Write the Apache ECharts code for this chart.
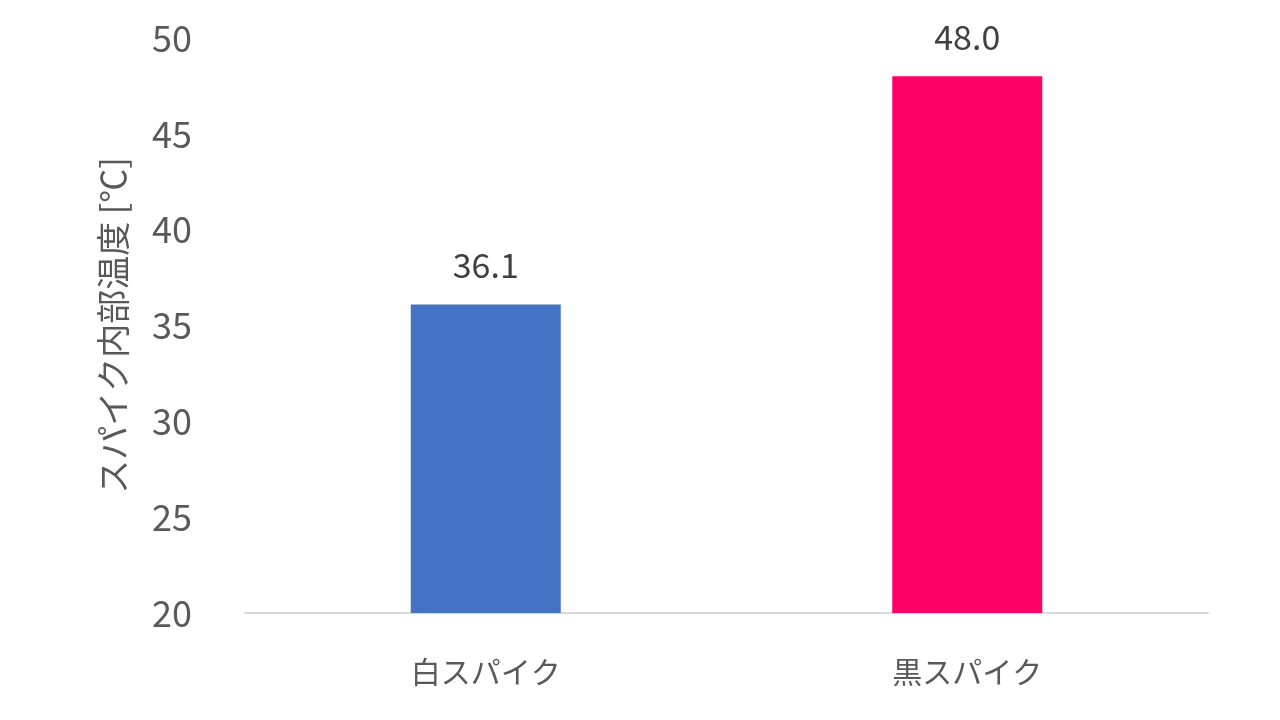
<!DOCTYPE html>
<html>
<head>
<meta charset="utf-8">
<script src="https://cdn.jsdelivr.net/npm/echarts@6/dist/echarts.min.js"></script>
<style>
html,body{margin:0;padding:0;background:#fff;}
#chart{width:1280px;height:720px;}
</style>
</head>
<body>
<div id="chart"></div>
<script>
const categories = ['白スパイク', '黒スパイク'];
const values = [36.1, 48.0];
const barColors = ['#4472C4', '#FF0066'];
const yAxisName = 'スパイク内部温度 [℃]';

const FONT = '"Noto Sans CJK JP", "Noto Sans", sans-serif';
const chart = echarts.init(document.getElementById('chart'));
chart.setOption({
  backgroundColor: '#ffffff',
  animation: false,
  grid: { left: 245, right: 72, top: 38, bottom: 107 },
  xAxis: {
    type: 'category',
    data: categories,
    axisLine: { lineStyle: { color: '#D9D9D9', width: 2 } },
    axisTick: { show: false },
    axisLabel: { color: '#595959', fontSize: 30, fontFamily: FONT, margin: 44 }
  },
  yAxis: {
    type: 'value',
    min: 20, max: 50, interval: 5,
    name: yAxisName,
    nameLocation: 'middle',
    nameGap: 115,
    nameTextStyle: { color: '#595959', fontSize: 34, fontFamily: FONT },
    splitLine: { show: false },
    axisLine: { show: false },
    axisTick: { show: false },
    axisLabel: { color: '#595959', fontSize: 36, fontFamily: FONT, margin: 53 }
  },
  series: [{
    type: 'bar',
    barWidth: 150,
    data: values.map((v, i) => ({ value: v, itemStyle: { color: barColors[i] } })),
    label: {
      show: true, position: 'top', distance: 22,
      color: '#404040', fontSize: 34, fontFamily: FONT,
      formatter: p => p.value.toFixed(1)
    }
  }]
});
</script>
</body>
</html>
